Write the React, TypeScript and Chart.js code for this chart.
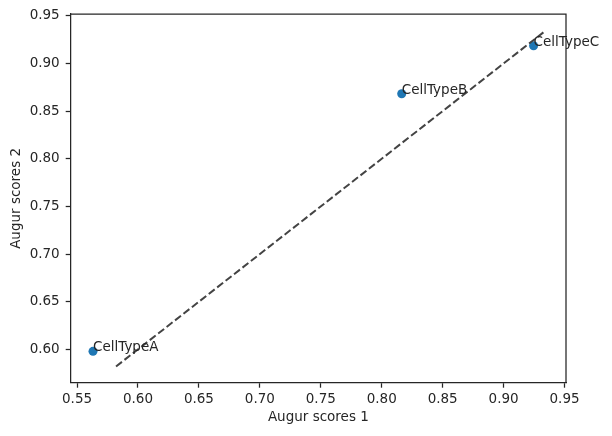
import { useEffect, useRef } from 'react';
import { Chart, registerables } from 'chart.js';

Chart.register(...registerables);

const cellTypes = ['CellTypeA', 'CellTypeB', 'CellTypeC'];
const augurScores1 = [0.5631, 0.8164, 0.9246];
const augurScores2 = [0.5979, 0.8682, 0.9186];
// dashed reference line (y = x)
const lineX = [0.582, 0.933];
const lineY = [0.582, 0.933];
const xTicks = [0.55, 0.6, 0.65, 0.7, 0.75, 0.8, 0.85, 0.9, 0.95];
const yTicks = [0.6, 0.65, 0.7, 0.75, 0.8, 0.85, 0.9, 0.95];

const INK = '#262626';
const FONT = { family: 'DejaVu Sans', size: 13.5 };

const App = () => {
  const canvasRef = useRef<HTMLCanvasElement | null>(null);
  const chartRef = useRef<Chart | null>(null);

  useEffect(() => {
    document.body.style.margin = '0';
    if (!canvasRef.current) return;
    const ctx = canvasRef.current.getContext('2d');
    if (!ctx) return;
    if (chartRef.current) chartRef.current.destroy();

    // top and right spines
    const boxPlugin = {
      id: 'box',
      afterDraw(chart: any) {
        const { ctx: c, chartArea: a } = chart;
        c.save();
        c.strokeStyle = INK;
        c.lineWidth = 1.25;
        c.beginPath();
        c.moveTo(a.left, a.top);
        c.lineTo(a.right, a.top);
        c.lineTo(a.right, a.bottom);
        c.stroke();
        c.restore();
      },
    };

    // text annotations next to the points
    const labelPlugin = {
      id: 'pointLabels',
      afterDatasetsDraw(chart: any) {
        const meta = chart.getDatasetMeta(0);
        const c = chart.ctx;
        c.save();
        c.fillStyle = INK;
        c.font = `${FONT.size}px "${FONT.family}"`;
        c.textAlign = 'left';
        c.textBaseline = 'alphabetic';
        meta.data.forEach((pt: any, i: number) => {
          c.fillText(cellTypes[i], pt.x, pt.y);
        });
        c.restore();
      },
    };

    chartRef.current = new Chart(ctx, {
      type: 'scatter',
      data: {
        datasets: [
          {
            label: 'scores',
            data: augurScores1.map((x, i) => ({ x, y: augurScores2[i] })),
            backgroundColor: '#1f77b4',
            borderColor: '#1f77b4',
            borderWidth: 0,
            pointRadius: 4.5,
            order: 2,
          },
          {
            label: 'diagonal',
            data: lineX.map((x, i) => ({ x, y: lineY[i] })),
            showLine: true,
            borderColor: '#444444',
            borderWidth: 2,
            borderDash: [7.5, 3.2],
            pointRadius: 0,
            fill: false,
            order: 1,
          },
        ] as any,
      },
      options: {
        animation: false,
        responsive: false,
        devicePixelRatio: 1,
        layout: { padding: { top: 13.3, right: 46, left: 0, bottom: 0 } },
        plugins: {
          legend: { display: false },
          tooltip: { enabled: false },
        },
        scales: {
          x: {
            type: 'linear',
            min: 0.5448,
            max: 0.9512,
            afterBuildTicks: (scale: any) => {
              scale.ticks = xTicks.map(v => ({ value: v }));
            },
            afterFit: (scale: any) => {
              scale.height = 53.3;
            },
            grid: {
              drawOnChartArea: false,
              drawTicks: true,
              tickLength: 5,
              tickWidth: 1.25,
              tickColor: INK,
            },
            border: { display: true, color: INK, width: 1.25 },
            ticks: {
              color: INK,
              font: FONT,
              padding: 3.5,
              maxRotation: 0,
              callback: (v: any) => Number(v).toFixed(2),
            },
            title: {
              display: true,
              text: 'Augur scores 1',
              color: INK,
              font: FONT,
              padding: { top: 0, bottom: 10 },
            },
          },
          y: {
            type: 'linear',
            min: 0.565,
            max: 0.9518,
            afterBuildTicks: (scale: any) => {
              scale.ticks = yTicks.map(v => ({ value: v }));
            },
            afterFit: (scale: any) => {
              scale.width = 70.7;
            },
            grid: {
              drawOnChartArea: false,
              drawTicks: true,
              tickLength: 5,
              tickWidth: 1.25,
              tickColor: INK,
            },
            border: { display: true, color: INK, width: 1.25 },
            ticks: {
              color: INK,
              font: FONT,
              padding: 6,
              callback: (v: any) => Number(v).toFixed(2),
            },
            title: {
              display: true,
              text: 'Augur scores 2',
              color: INK,
              font: FONT,
              padding: { top: 8, bottom: 0 },
            },
          },
        },
      } as any,
      plugins: [boxPlugin, labelPlugin],
    });

    return () => {
      if (chartRef.current) {
        chartRef.current.destroy();
        chartRef.current = null;
      }
    };
  }, []);

  return (
    <div style={{ width: 612, height: 436, position: 'relative', background: '#ffffff' }}>
      <canvas ref={canvasRef} width={612} height={436} style={{ width: 612, height: 436 }} />
    </div>
  );
};

export default App;
